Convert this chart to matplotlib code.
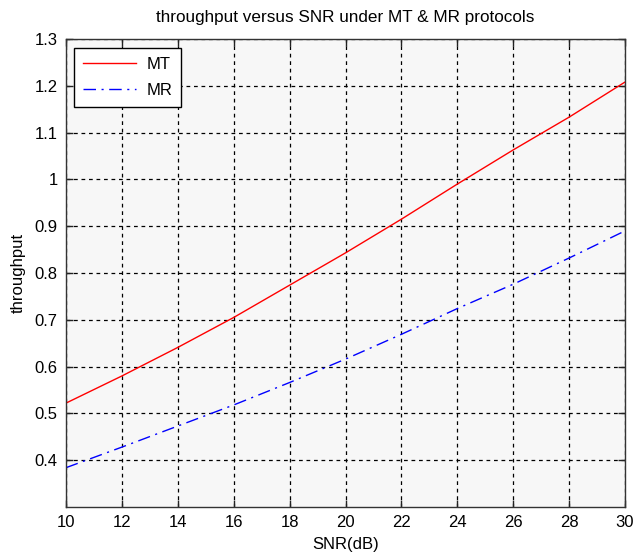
import matplotlib
matplotlib.use("Agg")
import matplotlib.pyplot as plt

snr = [10, 12, 14, 16, 18, 20, 22, 24, 26, 28, 30]
mt = [0.522, 0.580, 0.641, 0.705, 0.774, 0.843, 0.915, 0.990, 1.063, 1.133, 1.208]
mr = [0.384, 0.428, 0.473, 0.518, 0.566, 0.616, 0.669, 0.724, 0.776, 0.832, 0.890]
xticks = [10, 12, 14, 16, 18, 20, 22, 24, 26, 28, 30]
yticks = [0.4, 0.5, 0.6, 0.7, 0.8, 0.9, 1.0, 1.1, 1.2, 1.3]
ytick_labels = ["0.4", "0.5", "0.6", "0.7", "0.8", "0.9", "1", "1.1", "1.2", "1.3"]

plt.rcParams['font.family'] = ['Liberation Sans', 'DejaVu Sans']

fig = plt.figure(figsize=(6.33, 5.54), dpi=100)
W, H = 633, 554
ax = fig.add_axes([66 / W, 1 - 507 / H, (625 - 66) / W, (507 - 39) / H])
ax.set_facecolor('#f7f7f7')

ax.plot(snr, mt, color='red', linestyle='-', linewidth=1.0, label='MT')
ax.plot(snr, mr, color='blue', linestyle=(0, (9, 4, 1.5, 4)), linewidth=1.0, label='MR')

ax.set_xlim(10, 30)
ax.set_ylim(0.3, 1.3)
ax.set_xticks(xticks)
ax.set_yticks(yticks)
ax.set_yticklabels(ytick_labels)
ax.tick_params(direction='in', top=True, right=True, length=5, width=1.0,
               labelsize=12, color='#222222', pad=6)
ax.grid(True, color='black', linestyle=(0, (3, 3)), linewidth=0.9)
for s in ax.spines.values():
    s.set_color('#333333')
    s.set_linewidth(1.0)

ax.set_title('throughput versus SNR under MT & MR protocols', fontsize=12.3, pad=12)
ax.set_xlabel('SNR(dB)', fontsize=12, labelpad=5)
ax.set_ylabel('throughput', fontsize=12, labelpad=6)

leg = ax.legend(loc='upper left', fontsize=12, frameon=True, fancybox=False,
                edgecolor='black', framealpha=1.0, handlelength=3.2,
                borderpad=0.55, labelspacing=0.65, handletextpad=0.6,
                bbox_to_anchor=(0.014, 0.981), borderaxespad=0)
leg.get_frame().set_linewidth(1.0)

fig.savefig('out.png', dpi=100)
